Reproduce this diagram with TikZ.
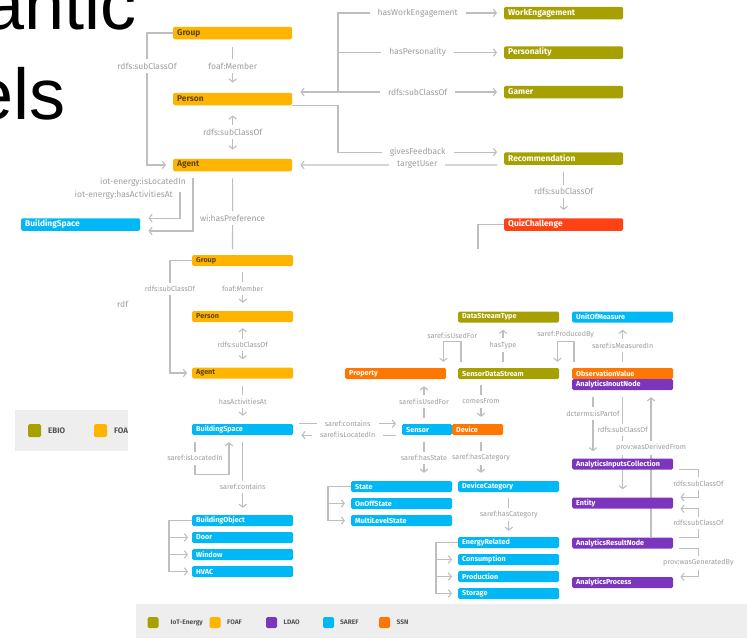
\documentclass[tikz,border=0pt]{standalone}
\usepackage{fontspec}
\usepackage{tikz}
\usetikzlibrary{arrows.meta}

\newfontfamily\diagfont{Fira Sans}
\newfontfamily\slidefont{Liberation Sans}

\definecolor{iotcol}{RGB}{166,161,0}
\definecolor{foafcol}{RGB}{255,181,0}
\definecolor{foaftxt}{RGB}{92,70,10}
\definecolor{ldaocol}{RGB}{124,54,190}
\definecolor{sarefcol}{RGB}{0,184,245}
\definecolor{ssncol}{RGB}{255,118,0}
\definecolor{quizcol}{RGB}{255,66,22}
\definecolor{linkcol}{RGB}{190,190,190}
\definecolor{lblcol}{RGB}{158,158,158}
\definecolor{legbg}{RGB}{238,238,238}
\definecolor{keytxt}{RGB}{85,85,85}

\pgfdeclarelayer{bg}
\pgfsetlayers{bg,main}

\tikzset{
	cls/.style={rounded corners=1.5pt, anchor=west, inner xsep=4pt, inner ysep=0pt, text=white, align=left},
	up/.style={cls, minimum height=12.5pt, text width=111pt, font=\diagfont\bfseries\fontsize{8.4}{9}\selectfont},
	lo/.style={cls, minimum height=11pt, text width=93pt, font=\diagfont\bfseries\fontsize{7.2}{8}\selectfont},
	link/.style={draw=linkcol, line width=1.1pt},
	hlbl/.style={fill=white, text=lblcol, inner xsep=8pt, inner ysep=1pt},
	vlbl/.style={fill=white, text=lblcol, inner xsep=1pt, inner ysep=3.5pt},
	tag/.style={text=lblcol, inner sep=1pt},
	ulbl/.style={font=\diagfont\fontsize{8.5}{9}\selectfont},
	llbl/.style={font=\diagfont\fontsize{7.2}{8}\selectfont},
	swatch/.style={minimum size=11pt, inner sep=0pt, rounded corners=1.5pt},
	key/.style={text=keytxt, inner sep=0pt, font=\diagfont\bfseries\fontsize{6.6}{7}\selectfont},
	slide/.style={inner sep=0pt, text=black, font=\slidefont\fontsize{72}{72}\selectfont},
	>={Straight Barb[length=3pt,width=7.5pt]}
}

\begin{document}
\begin{tikzpicture}[x=1pt,y=-1pt]
	\clip (0,0) rectangle (747,638);

	\node[slide,anchor=base east] (ttla) at (137,29) {antic};
	\node[slide,anchor=base east] (ttlb) at (66,119) {els};

	\begin{scope}
		\clip (15,410) rectangle (128,451);
		\fill[legbg] (15,410) rectangle (128,451);
		\node[swatch,minimum size=13pt,fill=iotcol] (oswa) at (34.5,430.5) {};
		\node[key,anchor=west,font=\diagfont\bfseries\fontsize{8}{9}\selectfont] (okya) at (48,430.5) {EBIO};
		\node[swatch,minimum size=13pt,fill=foafcol] (oswb) at (100.5,430.5) {};
		\node[key,anchor=west,font=\diagfont\bfseries\fontsize{8}{9}\selectfont] (okyb) at (114,430.5) {FOA};
	\end{scope}
	\node[tag,ulbl,anchor=west] (rdfcut) at (116,304) {rdf};

	\node[up,fill=foafcol,text=foaftxt] (grpA) at (173,33) {Group};
	\node[up,fill=foafcol,text=foaftxt] (perA) at (173,99) {Person};
	\node[up,fill=foafcol,text=foaftxt] (agtA) at (173,165) {Agent};
	\node[up,fill=iotcol] (wrk) at (504,13) {WorkEngagement};
	\node[up,fill=iotcol] (pers) at (504,52.5) {Personality};
	\node[up,fill=iotcol] (gmr) at (504,92) {Gamer};
	\node[up,fill=iotcol] (rec) at (504,158.5) {Recommendation};
	\node[up,fill=quizcol] (quiz) at (504,224.5) {QuizChallenge};
	\node[up,fill=sarefcol] (bspA) at (21,224.5) {BuildingSpace};
	\node[tag,ulbl,anchor=east] (locA) at (187,182) {iot-energy:isLocatedIn};
	\node[tag,ulbl,anchor=east] (actA) at (174,195) {iot-energy:hasActivitiesAt};
	\coordinate (trk) at (338,92);
	\coordinate (qzend) at (478,249);
	\coordinate (hasact) at (180,192);
	\coordinate (prefend) at (232.5,249);

	\node[lo,fill=foafcol,text=foaftxt] (grpB) at (192,260.5) {Group};
	\node[lo,fill=foafcol,text=foaftxt] (perB) at (192,316.5) {Person};
	\node[lo,fill=foafcol,text=foaftxt] (agtB) at (192,373) {Agent};
	\node[lo,fill=sarefcol] (bspB) at (192,429.5) {BuildingSpace};
	\node[lo,fill=sarefcol] (bobj) at (192,520.5) {BuildingObject};
	\node[lo,fill=sarefcol] (door) at (192,537.5) {Door};
	\node[lo,fill=sarefcol] (win) at (192,554.5) {Window};
	\node[lo,fill=sarefcol] (hvac) at (192,571.5) {HVAC};
	\node[lo,fill=sarefcol,text width=42pt] (sens) at (402,429.5) {Sensor};
	\node[lo,fill=ssncol,text width=43pt] (dev) at (452,429.5) {Device};
	\node[lo,fill=ssncol] (prop) at (345,373.5) {Property};
	\node[lo,fill=iotcol] (sds) at (458,373.5) {SensorDataStream};
	\node[lo,fill=iotcol] (dst) at (458,317) {DataStreamType};
	\node[lo,fill=sarefcol] (uom) at (572,317) {UnitOfMeasure};
	\node[lo,fill=ssncol] (obs) at (572,373.5) {ObservationValue};
	\node[lo,fill=ldaocol] (aio) at (572,384.5) {AnalyticsInoutNode};
	\node[lo,fill=sarefcol] (state) at (351,486.5) {State};
	\node[lo,fill=sarefcol] (onoff) at (351,503.5) {OnOffState};
	\node[lo,fill=sarefcol] (multi) at (351,520.5) {MultiLevelState};
	\node[lo,fill=sarefcol] (devcat) at (458,486.5) {DeviceCategory};
	\node[lo,fill=sarefcol] (enrel) at (458,542.5) {EnergyRelated};
	\node[lo,fill=sarefcol] (cons) at (458,559.5) {Consumption};
	\node[lo,fill=sarefcol] (prod) at (458,576.5) {Production};
	\node[lo,fill=sarefcol] (stor) at (458,593.5) {Storage};
	\node[lo,fill=ldaocol] (aic) at (572,464) {AnalyticsInputsCollection};
	\node[lo,fill=ldaocol] (ent) at (572,503) {Entity};
	\node[lo,fill=ldaocol] (arn) at (572,543) {AnalyticsResultNode};
	\node[lo,fill=ldaocol] (aproc) at (572,582.5) {AnalyticsProcess};

	\begin{pgfonlayer}{bg}
		\draw[link,->,shorten >=7] (grpA.west) -- ++(-26,0) |- (agtA.west) node[vlbl,ulbl,pos=0.125]{rdfs:subClassOf};
		\draw[link,->,shorten <=8,shorten >=10] (grpA.south) -- (perA.north) node[vlbl,ulbl,midway]{foaf:Member};
		\draw[link,<->,shorten <=10,shorten >=9] (perA.south) -- (agtA.north) node[vlbl,ulbl,midway]{rdfs:subClassOf};
		\draw[link,->,shorten >=8] (trk) -- (trk -| perA.east);
		\draw[link,->,shorten >=7] (trk) -- (gmr.west) node[hlbl,ulbl,pos=0.48]{rdfs:subClassOf};
		\draw[link,->,shorten >=7] (trk) |- (pers.west) node[hlbl,ulbl,pos=0.74]{hasPersonality};
		\draw[link,->,shorten >=7] (trk) |- (wrk.west) node[hlbl,ulbl,pos=0.74]{hasWorkEngagement};
		\draw[link,->,shorten >=7] (perA.south east) -- (trk |- perA.south east) |- (rec.north west) node[hlbl,ulbl,pos=0.74]{givesFeedback};
		\draw[link,->,shorten <=7,shorten >=8] (rec.south west) -- (agtA.east) node[hlbl,ulbl,pos=0.41]{targetUser};
		\draw[link,->,shorten <=7,shorten >=8] (rec.south) -- (quiz.north) node[vlbl,ulbl,midway]{rdfs:subClassOf};
		\draw[link] (quiz.west) -| (qzend);
		\draw[link,->,shorten <=7,shorten >=8] ([xshift=20]agtA.south west) |- (bspA.south east);
		\draw[link,->,shorten >=8] (hasact) |- (bspA.north east);
		\draw[link,shorten <=7] (agtA.south) -- (prefend) node[vlbl,ulbl,pos=0.6]{wi:hasPreference};

		\draw[link,->,shorten >=5] (grpB.west) -- ++(-22,0) |- (agtB.west) node[vlbl,llbl,pos=0.127]{rdfs:subClassOf};
		\draw[link,->,shorten <=6,shorten >=8] (grpB.south) -- (perB.north) node[vlbl,llbl,midway]{foaf:Member};
		\draw[link,<->,shorten <=6,shorten >=8] (perB.south) -- (agtB.north) node[vlbl,llbl,midway]{rdfs:subClassOf};
		\draw[link,->,shorten <=7,shorten >=8] (agtB.south) -- (bspB.north) node[vlbl,llbl,midway]{hasActivitiesAt};
		\draw[link,->,shorten <=6,shorten >=6] (bspB.north east) -- (sens.north west) node[hlbl,llbl,midway]{saref:contains};
		\draw[link,->,shorten <=6,shorten >=8] (sens.south west) -- (bspB.south east) node[hlbl,llbl,midway]{saref:isLocatedIn};
		\draw[link,->,shorten <=7,shorten >=7] ([xshift=3]bspB.south west) -- ++(0,39) node[vlbl,llbl,pos=0.59]{saref:isLocatedIn} -| ([xshift=37]bspB.south west);
		\draw[link,->,shorten <=7,shorten >=7] (bspB.south) -- (bobj.north) node[vlbl,llbl,pos=0.65]{saref:contains};
		\foreach \n in {door,win,hvac}
			\draw[link,->,shorten >=4] (bobj.west) -- ++(-23,0) |- (\n.west);

		\draw[link,->,shorten <=6,shorten >=6] ([xshift=3]sds.north west) -- ++(0,-26) -| ([xshift=-3]prop.north east) node[tag,llbl,pos=0.25,above=2pt]{saref:isUsedFor};
		\draw[link,->,shorten <=6,shorten >=7] ([xshift=45]sds.north west) -- ([xshift=45]sds.north west |- dst.south) node[vlbl,llbl,midway]{hasType};
		\draw[link,->,shorten <=6,shorten >=6] ([xshift=2]obs.north west) -- ++(0,-26) -| ([xshift=-2]sds.north east) node[tag,llbl,pos=0.25,above=2pt]{saref:ProducedBy};
		\draw[link,->,shorten <=6,shorten >=7] (obs.north) -- (uom.south) node[vlbl,llbl,midway]{saref:isMeasuredIn};
		\draw[link,->,shorten <=6,shorten >=7] ([xshift=22]sens.north west) -- ([xshift=22]sens.north west |- prop.south) node[vlbl,llbl,midway]{saref:isUsedFor};
		\draw[link,->,shorten <=6,shorten >=7] ([xshift=23]sds.south west) -- ([xshift=23]sds.south west |- dev.north) node[vlbl,llbl,midway]{comesFrom};
		\draw[link,->,shorten <=7,shorten >=8] ([xshift=22]sens.south west) -- ([xshift=22]sens.south west |- state.north) node[vlbl,llbl,midway]{saref:hasState};
		\draw[link,->,shorten <=7,shorten >=8] ([xshift=23]sds.south west |- dev.south) -- ([xshift=23]devcat.north west) node[vlbl,llbl,midway]{saref:hasCategory};
		\foreach \n in {onoff,multi}
			\draw[link,->,shorten >=6] (state.west) -- ++(-23,0) |- (\n.west);
		\draw[link,->,shorten <=6,shorten >=6] (devcat.south) -- (enrel.north) node[vlbl,llbl,midway]{saref:hasCategory};
		\foreach \n in {cons,prod,stor}
			\draw[link,->,shorten >=6] (enrel.west) -- ++(-22,0) |- (\n.west);

		\draw[link,->,shorten <=7,shorten >=7] ([xshift=21]aio.south west) -- ([xshift=21]aic.north west) node[vlbl,llbl,pos=0.34]{dcterms:isPartof};
		\draw[link,->,shorten <=7,shorten >=8] (aio.south) -- (ent.north) node[vlbl,llbl,pos=0.37]{rdfs:subClassOf};
		\draw[link,->,shorten >=7] ([xshift=79]arn.north west) -- ([xshift=79]aio.south west) node[vlbl,llbl,pos=0.61]{prov:wasDerivedFrom};
		\draw[link,->,shorten <=6,shorten >=7] (aic.south east) -- ++(25,0) |- (ent.north east) node[vlbl,llbl,pos=0.25]{rdfs:subClassOf};
		\draw[link,->,shorten <=6,shorten >=7] (arn.north east) -- ++(25,0) |- (ent.south east) node[vlbl,llbl,pos=0.25]{rdfs:subClassOf};
		\draw[link,->,shorten <=6,shorten >=7] (arn.south east) -- ++(25,0) |- (aproc.north east) node[vlbl,llbl,pos=0.25]{prov:wasGeneratedBy};
	\end{pgfonlayer}

	\fill[legbg] (136,604) rectangle (747,638);
	\foreach \col/\txt/\sx/\tx [count=\i] in {iotcol/IoT-Energy/153/170.5, foafcol/FOAF/215/227, ldaocol/LDAO/271.5/283.5, sarefcol/SAREF/328.5/340, ssncol/SSN/384.5/396.5}
	{
		\node[swatch,fill=\col] (sw\i) at (\sx,622.5) {};
		\node[key,anchor=west] (key\i) at (\tx,622.5) {\txt};
	}
\end{tikzpicture}
\end{document}
